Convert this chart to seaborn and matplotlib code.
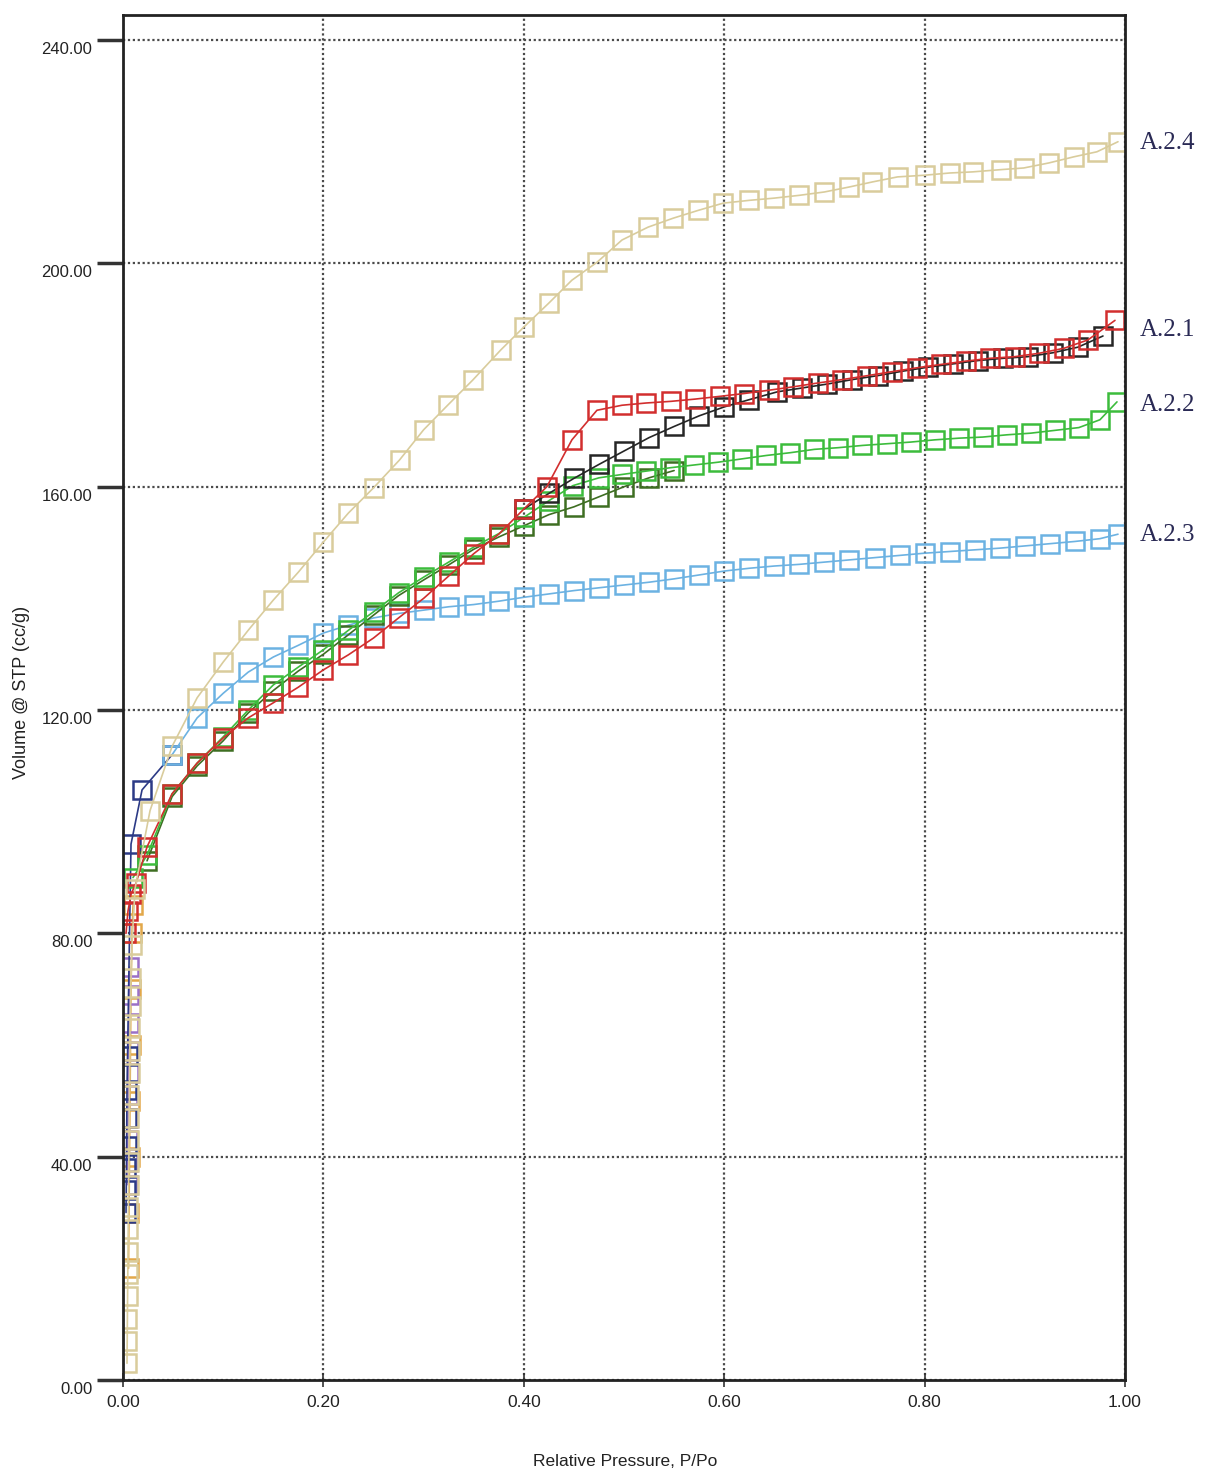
import matplotlib
matplotlib.use("Agg")
import matplotlib.pyplot as plt
from matplotlib.ticker import StrMethodFormatter
from matplotlib.transforms import ScaledTranslation
import seaborn as sns

sns.set_theme(style="white")
plt.rcParams['font.family'] = ['Liberation Sans', 'DejaVu Sans']

# ---------------- data (relative pressure P/Po, volume cc/g) ----------------
tan_p = [0.0040, 0.0042, 0.0044, 0.0046, 0.0048, 0.0050, 0.0052, 0.0054, 0.0056, 0.0058,
         0.0060, 0.0062, 0.0064, 0.0066, 0.0068, 0.0070, 0.0075, 0.0080, 0.0090, 0.012,
         0.027, 0.049, 0.074, 0.100, 0.125, 0.150, 0.175, 0.200, 0.225, 0.250, 0.276,
         0.300, 0.324, 0.349, 0.377, 0.400, 0.425, 0.448, 0.473, 0.498, 0.524, 0.549,
         0.574, 0.599, 0.625, 0.650, 0.675, 0.700, 0.725, 0.748, 0.773, 0.800, 0.825,
         0.848, 0.876, 0.899, 0.924, 0.949, 0.972, 0.993]
tan_v = [3, 7, 11, 15, 19, 23, 27, 31, 35, 39,
         43, 47, 51, 55, 59, 63, 67, 72, 78, 88,
         102, 113.5, 122.2, 128.6, 134.3, 139.7, 144.7, 150.1, 155.3, 159.8, 164.8,
         170.2, 174.6, 179.1, 184.5, 188.6, 192.9, 197.0, 200.2, 204.2, 206.5, 208.1,
         209.5, 210.8, 211.3, 211.7, 212.2, 212.8, 213.7, 214.6, 215.5, 215.8, 216.2,
         216.4, 216.8, 217.1, 218.0, 219.1, 220.0, 221.8]

red_p = [0.003, 0.005, 0.008, 0.013, 0.024, 0.049, 0.074, 0.100, 0.125, 0.150, 0.175,
         0.200, 0.225, 0.250, 0.275, 0.300, 0.325, 0.350, 0.375, 0.400, 0.423, 0.448,
         0.473, 0.498, 0.522, 0.547, 0.571, 0.596, 0.620, 0.645, 0.669, 0.694, 0.718,
         0.743, 0.767, 0.792, 0.816, 0.841, 0.865, 0.890, 0.914, 0.939, 0.963, 0.990]
red_v = [80, 84, 87, 89, 95.5, 105, 110.5, 115, 118.6, 121.3, 124.1,
         127.2, 129.9, 132.9, 136.5, 140.0, 144.0, 148.0, 151.5, 156.0, 160.0, 168.4,
         173.7, 174.6, 175.0, 175.3, 175.7, 176.2, 176.7, 177.3, 177.9, 178.6, 179.2,
         179.9, 180.6, 181.3, 181.9, 182.5, 183.0, 183.3, 183.9, 184.8, 186.3, 189.8]

black_p = [0.400, 0.425, 0.450, 0.475, 0.500, 0.525, 0.550, 0.575, 0.600, 0.625,
           0.653, 0.678, 0.703, 0.728, 0.753, 0.778, 0.803, 0.828, 0.853, 0.878,
           0.903, 0.928, 0.953, 0.978]
black_v = [156.0, 158.8, 161.5, 164.0, 166.4, 168.8, 170.8, 172.7, 174.3, 175.6,
           177.0, 177.7, 178.4, 179.2, 179.9, 180.7, 181.4, 182.0, 182.6, 183.0,
           183.3, 184.0, 185.0, 187.0]

green_p = [0.010, 0.024, 0.049, 0.074, 0.100, 0.125, 0.150, 0.175, 0.200, 0.225,
           0.250, 0.275, 0.300, 0.325, 0.350, 0.375, 0.400, 0.425, 0.449, 0.475,
           0.498, 0.522, 0.546, 0.570, 0.594, 0.618, 0.642, 0.666, 0.690, 0.714,
           0.738, 0.762, 0.786, 0.810, 0.834, 0.858, 0.882, 0.906, 0.930, 0.954,
           0.975, 0.992]
green_v = [90, 94, 105, 110.5, 115.2, 120.0, 124.5, 127.7, 130.8, 134.3,
           137.6, 141.0, 143.8, 146.5, 149.2, 151.6, 154.5, 157.5, 160.2, 161.6,
           162.2, 162.8, 163.4, 163.9, 164.4, 165.0, 165.6, 166.1, 166.7, 167.0,
           167.4, 167.7, 168.0, 168.4, 168.7, 168.9, 169.3, 169.6, 170.1, 170.6,
           172.0, 175.2]

olive_p = [0.024, 0.049, 0.074, 0.100, 0.125, 0.150, 0.175, 0.200, 0.225, 0.250,
           0.275, 0.300, 0.325, 0.350, 0.375, 0.400, 0.425, 0.450, 0.475, 0.500,
           0.525, 0.550]
olive_v = [93, 104.5, 110.0, 114.5, 119.5, 123.5, 127.0, 130.0, 133.5, 137.0,
           140.5, 143.3, 146.0, 148.8, 151.0, 153.0, 155.0, 156.4, 158.2, 160.0,
           161.6, 162.9]

blue_p = [0.049, 0.074, 0.100, 0.125, 0.150, 0.175, 0.200, 0.225, 0.250, 0.275,
          0.300, 0.325, 0.350, 0.375, 0.400, 0.425, 0.450, 0.475, 0.500, 0.525,
          0.550, 0.575, 0.600, 0.625, 0.650, 0.675, 0.700, 0.725, 0.750, 0.775,
          0.800, 0.825, 0.850, 0.875, 0.900, 0.925, 0.950, 0.975, 0.993]
blue_v = [112.0, 118.6, 123.0, 126.8, 129.5, 131.6, 133.8, 135.2, 136.5, 137.3,
          137.9, 138.5, 138.9, 139.5, 140.2, 140.8, 141.4, 141.9, 142.4, 142.9,
          143.5, 144.2, 144.9, 145.4, 145.8, 146.1, 146.5, 146.9, 147.3, 147.7,
          148.1, 148.4, 148.7, 149.0, 149.4, 149.8, 150.2, 150.7, 151.5]

navy_p = [0.0030, 0.0032, 0.0034, 0.0036, 0.0038, 0.0040, 0.0045, 0.008, 0.019, 0.049]
navy_v = [30, 34, 38, 42, 47, 52, 58, 96, 105.7, 112.0]

purple_p = [0.0045, 0.0047, 0.0049, 0.0051, 0.0053, 0.0055, 0.0057, 0.0059, 0.0061, 0.0063]
purple_v = [35, 39, 43, 47, 51, 55, 59, 64, 69, 74]

orange_p = [0.0055, 0.0060, 0.0065, 0.0070, 0.0075, 0.0080, 0.0090, 0.0100]
orange_v = [20, 30, 40, 50, 60, 70, 80, 85]

labels = ["A.2.4", "A.2.1", "A.2.2", "A.2.3"]
label_y = [221.6, 188.1, 174.6, 151.4]

y_ticks = [0, 40, 80, 120, 160, 200, 240]
x_ticks = [0.0, 0.2, 0.4, 0.6, 0.8, 1.0]

# ---------------- figure ----------------
fig = plt.figure(figsize=(12.12, 14.73), dpi=100)
ax = fig.add_axes([123 / 1212, 1 - 1380 / 1473, (1125 - 123) / 1212, (1380 - 15) / 1473])

def draw(p, v, color, lw=1.2, mew=1.8, z=2):
    sns.lineplot(x=p, y=v, ax=ax, color=color, sort=False, estimator=None,
                 marker='s', markersize=12.5, markerfacecolor='none',
                 markeredgecolor=color, markeredgewidth=mew, linewidth=lw, zorder=z)

draw(orange_p, orange_v, '#e2a84a')
draw(purple_p, purple_v, '#9a70c8')
draw(navy_p, navy_v, '#2c3a86')
draw(blue_p, blue_v, '#6cb2e2')
draw(olive_p, olive_v, '#3e6e22')
draw(green_p, green_v, '#3cbc3c')
draw(black_p, black_v, '#262626')
draw(red_p, red_v, '#d22e2e')
draw(tan_p, tan_v, '#d9cc9c')

ax.set_xlim(0, 1.0)
ax.set_ylim(0, 244.5)
ax.set_xticks(x_ticks)
ax.set_yticks(y_ticks)
ax.xaxis.set_major_formatter(StrMethodFormatter('{x:.2f}'))
ax.yaxis.set_major_formatter(StrMethodFormatter('{x:.2f}'))
ax.grid(True, color='#4a4a4a', linestyle=(0, (1, 1.2)), linewidth=1.6)
ax.set_axisbelow(True)
ax.tick_params(axis='y', direction='out', length=19, width=2.5, color='#333333',
               labelsize=12, pad=3, left=True, labelcolor='#222222')
ax.tick_params(axis='x', direction='inout', length=10, width=1.2, color='#333333',
               labelsize=12.5, pad=6, bottom=True, labelcolor='#222222')
shift = ScaledTranslation(0, -8 / 100, fig.dpi_scale_trans)
for lab in ax.get_yticklabels():
    lab.set_transform(lab.get_transform() + shift)
for s in ax.spines.values():
    s.set_color('#222222')
    s.set_linewidth(2)
    s.set_zorder(5)

for lab, yv in zip(labels, label_y):
    ax.annotate(lab, xy=(1.015, yv), xycoords=('axes fraction', 'data'),
                fontsize=18, family=['Liberation Serif', 'DejaVu Serif'],
                color='#2a2a55', va='center', ha='left', annotation_clip=False)

ax.set_xlabel('')
ax.set_ylabel('')
fig.text(625 / 1212, 1 - 1462 / 1473, 'Relative Pressure, P/Po', fontsize=12.5,
         ha='center', va='center', color='#222222')
fig.text(22 / 1212, 1 - 692 / 1473, 'Volume @ STP (cc/g)', fontsize=13,
         rotation=90, ha='center', va='center', color='#222222')

fig.savefig('out.png', dpi=100)
